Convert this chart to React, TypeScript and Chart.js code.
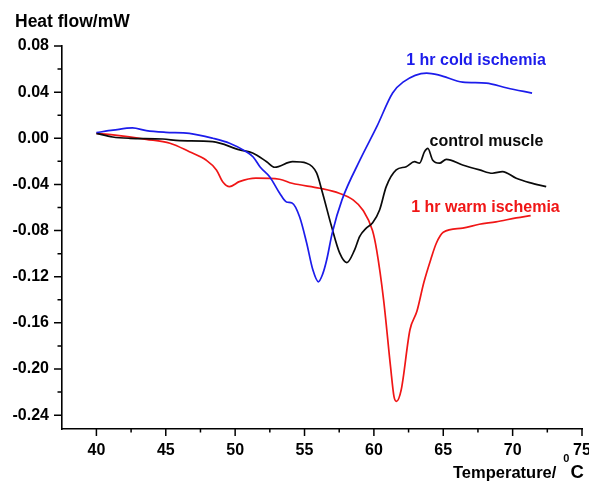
import React, { useEffect, useRef } from "react";
import { Chart, registerables } from "chart.js";

Chart.register(...registerables);

// ---- Data (Temperature in °C, heat flow in mW) ----
const coldX = [40.0, 41.2, 42.6, 43.6, 45.0, 46.7, 48.4, 49.6, 50.8, 51.3, 51.8, 52.5, 53.2, 53.7, 54.1, 54.65, 55.15, 55.6, 56.0, 56.3, 56.6, 57.0, 57.7, 59.0, 60.2, 61.35, 62.1, 63.8, 64.7, 66.4, 68.1, 69.6, 71.4];
const coldY = [0.005, 0.007, 0.009, 0.0066, 0.0052, 0.0043, 0.0, -0.0043, -0.0116, -0.0162, -0.0249, -0.0335, -0.0474, -0.0552, -0.0561, -0.0682, -0.0906, -0.114, -0.1244, -0.118, -0.1053, -0.082, -0.0534, -0.0188, 0.0098, 0.0392, 0.0487, 0.0565, 0.0548, 0.0487, 0.0479, 0.0436, 0.0392];

const controlX = [40.0, 41.17, 42.4, 44.78, 46.0, 48.38, 50.33, 51.26, 52.27, 52.85, 54.14, 55.15, 55.87, 56.3, 56.95, 57.53, 58.05, 58.61, 58.97, 59.45, 59.91, 60.41, 60.89, 61.61, 62.33, 62.93, 63.29, 63.65, 63.89, 64.23, 64.73, 65.22, 66.39, 67.62, 68.55, 69.27, 70.26, 71.22, 72.42];
const controlY = [0.0043, 0.0011, 0.0, -0.0006, -0.0021, -0.0029, -0.0101, -0.0127, -0.0203, -0.0251, -0.0203, -0.0216, -0.03, -0.0474, -0.0765, -0.0993, -0.1077, -0.0967, -0.0852, -0.0779, -0.0733, -0.0621, -0.0419, -0.0274, -0.0246, -0.0203, -0.0216, -0.0116, -0.0087, -0.0188, -0.0216, -0.0182, -0.0231, -0.0274, -0.0303, -0.0289, -0.0346, -0.0384, -0.0419];

const warmX = [40.0, 41.2, 43.6, 45.3, 46.7, 47.9, 48.65, 49.1, 49.6, 50.3, 51.5, 53.2, 54.1, 56.1, 57.5, 58.5, 59.2, 59.9, 60.2, 60.7, 61.2, 61.45, 61.63, 61.97, 62.6, 63.1, 63.6, 64.1, 64.5, 65.0, 66.4, 67.6, 68.8, 70.26, 71.3];
const warmY = [0.0043, 0.0029, -0.0009, -0.0043, -0.0116, -0.0188, -0.0274, -0.0376, -0.0419, -0.0376, -0.0346, -0.0355, -0.039, -0.0433, -0.0476, -0.0534, -0.0621, -0.08, -0.097, -0.14, -0.198, -0.224, -0.228, -0.218, -0.166, -0.15, -0.125, -0.105, -0.091, -0.0815, -0.0779, -0.0745, -0.0725, -0.069, -0.067];

const seriesNames = ["1 hr cold ischemia", "control muscle", "1 hr warm ischemia"];
const seriesColors = ["rgb(28,28,235)", "rgb(10,10,10)", "rgb(240,22,22)"];
// label anchors in data coordinates (left x, baseline y)
const labelAnchorX = [62.33, 64.01, 62.69];
const labelAnchorY = [0.0635, -0.0067, -0.0636];

const xMajorTicks = [40, 45, 50, 55, 60, 65, 70, 75];
const xMinorTicks = [42.5, 47.5, 52.5, 57.5, 62.5, 67.5, 72.5];
const yMajorTicks = [0.08, 0.04, 0.0, -0.04, -0.08, -0.12, -0.16, -0.2, -0.24];
const yMinorTicks = [0.06, 0.02, -0.02, -0.06, -0.1, -0.14, -0.18, -0.22];

const yAxisTitle = "Heat flow/mW";
const xAxisTitleMain = "Temperature/";
const xAxisTitleSup = "0";
const xAxisTitleUnit = "C";

const FONT = "'Liberation Sans', Arial, Helvetica, sans-serif";

const annotPlugin = {
  id: "annot",
  afterDraw(chart: any) {
    const { ctx, chartArea } = chart;
    const xs = chart.scales.x;
    const ys = chart.scales.y;
    ctx.save();
    ctx.strokeStyle = "#000";
    ctx.lineWidth = 1.5;
    ctx.beginPath();
    for (const v of yMajorTicks) {
      const p = ys.getPixelForValue(v);
      ctx.moveTo(chartArea.left - 8, p);
      ctx.lineTo(chartArea.left, p);
    }
    for (const v of yMinorTicks) {
      const p = ys.getPixelForValue(v);
      ctx.moveTo(chartArea.left - 4.5, p);
      ctx.lineTo(chartArea.left, p);
    }
    for (const v of xMajorTicks) {
      const p = xs.getPixelForValue(v);
      ctx.moveTo(p, chartArea.bottom);
      ctx.lineTo(p, chartArea.bottom + 7);
    }
    for (const v of xMinorTicks) {
      const p = xs.getPixelForValue(v);
      ctx.moveTo(p, chartArea.bottom);
      ctx.lineTo(p, chartArea.bottom + 3.5);
    }
    ctx.stroke();

    // series labels
    ctx.textBaseline = "alphabetic";
    ctx.textAlign = "left";
    ctx.font = `bold 16px ${FONT}`;
    seriesNames.forEach((name, i) => {
      ctx.fillStyle = seriesColors[i];
      ctx.fillText(name, xs.getPixelForValue(labelAnchorX[i]), ys.getPixelForValue(labelAnchorY[i]));
    });

    // y-axis title (top left)
    ctx.fillStyle = "#000";
    ctx.font = `bold 17.5px ${FONT}`;
    ctx.fillText(yAxisTitle, chartArea.left - 47, chartArea.top - 19.5);

    // x-axis title (bottom right)
    ctx.font = `bold 16.5px ${FONT}`;
    const baseY = chartArea.bottom + 49;
    let tx = chartArea.right - 129;
    ctx.fillText(xAxisTitleMain, tx, baseY);
    tx += ctx.measureText(xAxisTitleMain).width + 7;
    ctx.font = `bold 11px ${FONT}`;
    ctx.fillText(xAxisTitleSup, tx, baseY - 16);
    tx += ctx.measureText(xAxisTitleSup).width + 1;
    ctx.font = `bold 18.5px ${FONT}`;
    ctx.fillText(xAxisTitleUnit, tx, baseY);
    ctx.restore();
  },
};

function toPoints(xs: number[], ys: number[]) {
  return xs.map((x, i) => ({ x, y: ys[i] }));
}

export default function App() {
  const canvasRef = useRef<HTMLCanvasElement | null>(null);

  useEffect(() => {
    const canvas = canvasRef.current;
    if (!canvas) return;
    const seriesX = [coldX, controlX, warmX];
    const seriesY = [coldY, controlY, warmY];
    const chart = new Chart(canvas, {
      type: "line",
      data: {
        datasets: seriesNames.map((name, i) => ({
          label: name,
          data: toPoints(seriesX[i], seriesY[i]),
          borderColor: seriesColors[i],
          borderWidth: 1.7,
          pointRadius: 0,
          fill: false,
          cubicInterpolationMode: "monotone" as const,
        })),
      },
      options: {
        responsive: false,
        animation: false,
        events: [],
        layout: { padding: { left: 0, right: 7, top: 46, bottom: 0 } },
        plugins: {
          legend: { display: false },
          title: { display: false },
          tooltip: { enabled: false },
        },
        scales: {
          x: {
            type: "linear",
            min: 37.52,
            max: 75,
            grid: { display: false, drawTicks: false },
            border: { display: true, color: "#000", width: 1.6 },
            afterBuildTicks: (scale: any) => {
              scale.ticks = xMajorTicks.map((v) => ({ value: v }));
            },
            afterFit: (scale: any) => {
              scale.height = 54;
              scale.paddingRight = 0;
              scale.paddingLeft = 0;
            },
            ticks: {
              color: "#000",
              padding: 12,
              maxRotation: 0,
              autoSkip: false,
              font: { family: FONT, weight: "bold", size: 16 },
              callback: (v: any) => String(v),
            },
          },
          y: {
            type: "linear",
            min: -0.252,
            max: 0.08,
            grid: { display: false, drawTicks: false },
            border: { display: true, color: "#000", width: 1.6 },
            afterBuildTicks: (scale: any) => {
              scale.ticks = yMajorTicks.map((v) => ({ value: v }));
            },
            afterFit: (scale: any) => {
              scale.width = 62;
            },
            ticks: {
              color: "#000",
              padding: 13,
              autoSkip: false,
              font: { family: FONT, weight: "bold", size: 16 },
              callback: (v: any) => Number(v).toFixed(2),
            },
          },
        },
      },
      plugins: [annotPlugin],
    });
    return () => chart.destroy();
  }, []);

  return (
    <div style={{ position: "absolute", left: 0, top: 0, width: 589, height: 483, background: "#fff" }}>
      <canvas ref={canvasRef} width={589} height={483} />
    </div>
  );
}
